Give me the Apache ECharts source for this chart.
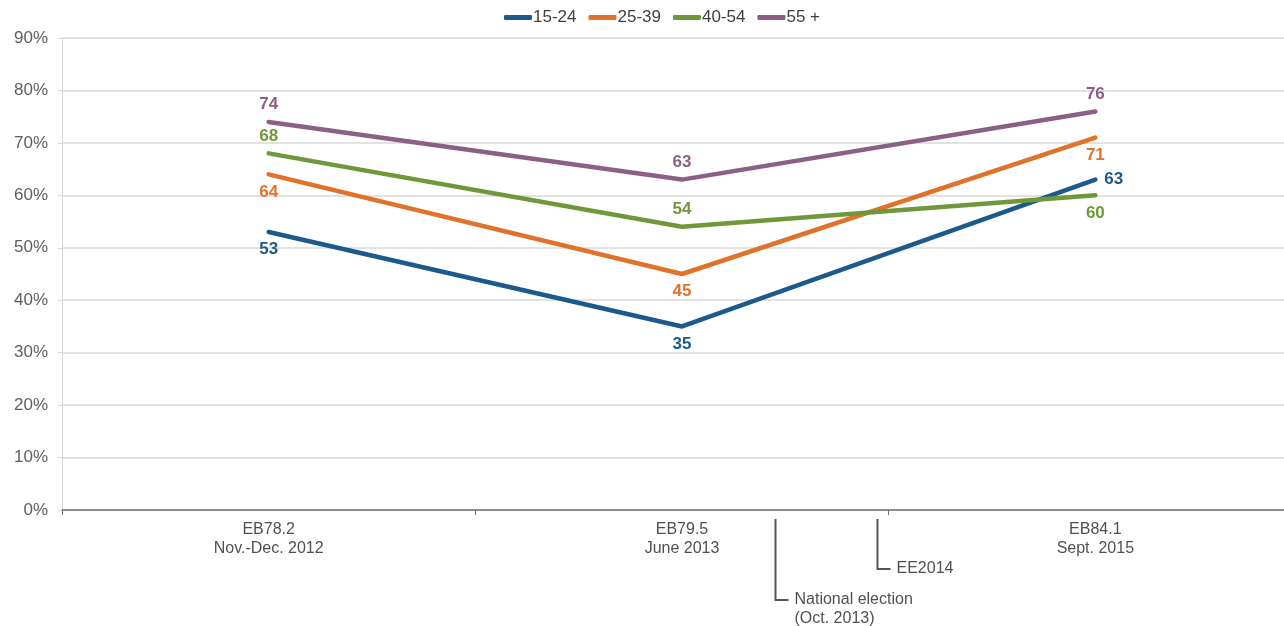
<!DOCTYPE html>
<html><head><meta charset="utf-8">
<script src="https://cdn.jsdelivr.net/npm/echarts@6/dist/echarts.min.js"></script>
<style>html,body{margin:0;padding:0;background:#fff;overflow:hidden}#c{width:1284px;height:626px}</style>
</head><body><div id="c"></div>
<script>
const categories = ['EB78.2\nNov.-Dec. 2012', 'EB79.5\nJune 2013', 'EB84.1\nSept. 2015'];
const seriesNames = ['15-24', '25-39', '40-54', '55 +'];
const s1524 = [53, 35, 63];
const s2539 = [64, 45, 71];
const s4054 = [68, 54, 60];
const s55 = [74, 63, 76];
const yTicks = [0, 10, 20, 30, 40, 50, 60, 70, 80, 90];
const annotations = [
  { text: 'National election\n(Oct. 2013)', pos: 1.225 },
  { text: 'EE2014', pos: 1.472 }
];

const colors = ['#1C5A8C', '#E0722A', '#6F983A', '#8C5F87'];
const labelPos = [
  ['bottom', 'bottom', 'right'],
  ['bottom', 'bottom', 'bottom'],
  ['top', 'top', 'bottom'],
  ['top', 'top', 'top']
];
const values = [s1524, s2539, s4054, s55];
const font = 'Liberation Sans, Arial, sans-serif';

const chart = echarts.init(document.getElementById('c'));
const series = values.map((vals, i) => ({
  name: seriesNames[i],
  type: 'line',
  data: vals.map((v, j) => ({ value: v, label: { position: labelPos[i][j] } })),
  symbol: 'circle',
  symbolSize: 0,
  lineStyle: { width: 4.5, color: colors[i], cap: 'round', join: 'round' },
  itemStyle: { color: colors[i] },
  label: { show: true, color: colors[i], fontSize: 17, fontWeight: 'bold', fontFamily: font, distance: 9 },
  emphasis: { disabled: true },
  animation: false
}));

chart.setOption({
  animation: false,
  color: colors,
  legend: {
    top: 4, left: 499,
    itemWidth: 28, itemHeight: 5, itemGap: 12,
    icon: 'roundRect',
    textStyle: { fontSize: 17, color: '#404040', fontFamily: font, padding: [0, 0, 0, -4] },
    data: seriesNames
  },
  grid: { left: 62, width: 1240, top: 38, bottom: 116, containLabel: false, outerBoundsMode: 'none' },
  xAxis: {
    type: 'category',
    data: categories,
    boundaryGap: true,
    axisLine: { lineStyle: { color: '#707070', width: 1.5 } },
    axisTick: { show: true, length: 5, lineStyle: { color: '#707070' } },
    axisLabel: { color: '#505050', fontSize: 16, fontFamily: font, lineHeight: 19, margin: 10 }
  },
  yAxis: {
    type: 'value', min: 0, max: 90, interval: 10,
    axisLine: { show: true, lineStyle: { color: '#d9d9d9' } },
    axisTick: { show: true, length: 4, lineStyle: { color: '#d9d9d9' } },
    splitLine: { lineStyle: { color: '#d9d9d9', width: 1.5 } },
    axisLabel: { formatter: v => yTicks.includes(v) ? v + '%' : '', color: '#606060', fontSize: 17, fontFamily: font, margin: 14 }
  },
  series: series
});

function drawAnnotations() {
  const p1 = chart.convertToPixel({ xAxisIndex: 0 }, categories[1]);
  const p2 = chart.convertToPixel({ xAxisIndex: 0 }, categories[2]);
  const y0 = chart.convertToPixel({ yAxisIndex: 0 }, 0);
  const els = [];
  const depths = [90, 59];
  annotations.forEach((a, i) => {
    const x = Math.round(p1 + (p2 - p1) * (a.pos - 1)) + 0.5;
    const yTop = y0 + 9;
    const yBot = y0 + depths[i];
    els.push({ type: 'polyline', shape: { points: [[x, yTop], [x, yBot], [x + 13, yBot]] },
      style: { stroke: '#555', lineWidth: 2, fill: null }, silent: true });
    els.push({ type: 'text', x: x + 19, y: yBot - 10,
      style: { text: a.text, fill: '#505050', font: '16px ' + font, lineHeight: 19, textVerticalAlign: 'top' }, silent: true });
  });
  chart.setOption({ graphic: els });
}
drawAnnotations();
</script></body></html>
